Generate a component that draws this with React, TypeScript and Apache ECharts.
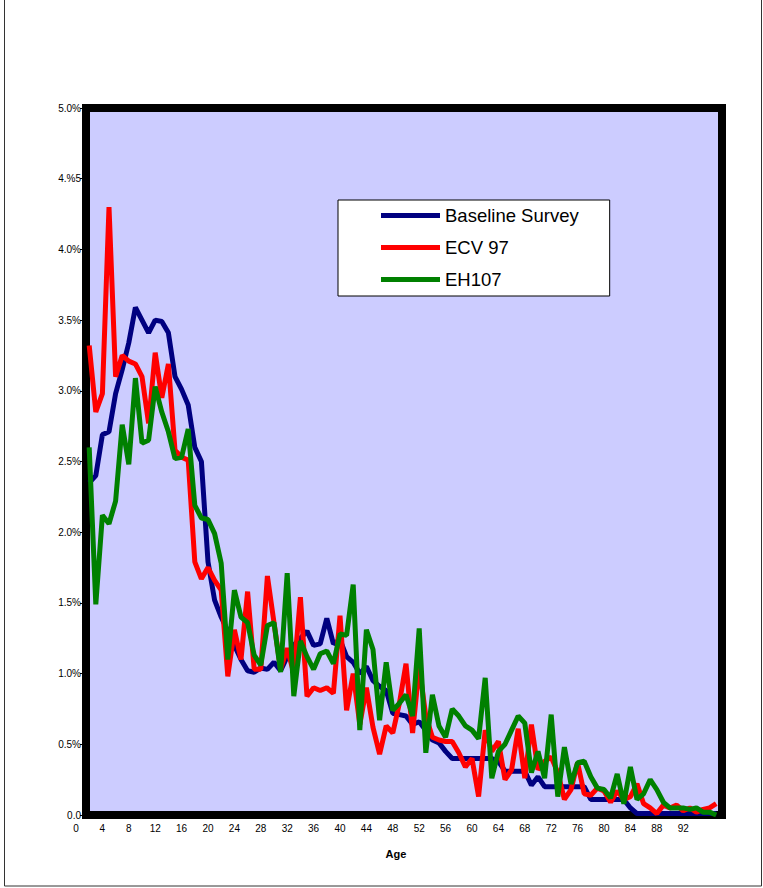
import React, { useEffect, useRef } from "react";
import * as echarts from "echarts";

const AGES = [
  2, 3, 4, 5, 6, 7, 8, 9, 10, 11, 12, 13, 14, 15, 16, 17, 18, 19, 20, 21,
  22, 23, 24, 25, 26, 27, 28, 29, 30, 31, 32, 33, 34, 35, 36, 37, 38, 39, 40, 41,
  42, 43, 44, 45, 46, 47, 48, 49, 50, 51, 52, 53, 54, 55, 56, 57, 58, 59, 60, 61,
  62, 63, 64, 65, 66, 67, 68, 69, 70, 71, 72, 73, 74, 75, 76, 77, 78, 79, 80, 81,
  82, 83, 84, 85, 86, 87, 88, 89, 90, 91, 92, 93, 94, 95, 96, 97,
];

const BASELINE = [
  2.35, 2.4, 2.69, 2.71, 2.98, 3.15, 3.34, 3.59, 3.5, 3.41, 3.5, 3.49, 3.41, 3.1, 3.01, 2.9, 2.6, 2.5, 1.79, 1.52,
  1.4, 1.3, 1.2, 1.1, 1.02, 1.01, 1.04, 1.03, 1.08, 1.02, 1.12, 1.2, 1.25, 1.3, 1.2, 1.21, 1.39, 1.21, 1.24, 1.12,
  1.08, 1.0, 1.05, 0.95, 0.91, 0.88, 0.72, 0.71, 0.7, 0.64, 0.66, 0.6, 0.53, 0.51, 0.45, 0.4, 0.4, 0.4, 0.4, 0.4,
  0.4, 0.4, 0.38, 0.31, 0.31, 0.31, 0.31, 0.21, 0.27, 0.2, 0.2, 0.2, 0.2, 0.2, 0.2, 0.2, 0.11, 0.11, 0.11, 0.11,
  0.11, 0.11, 0.05, 0.01, 0.01, 0.01, 0.01, 0.01, 0.01, 0.01, 0.01, 0.01, 0.01, 0.01, 0.01, 0.01,
];

const ECV97 = [
  3.32, 2.85, 2.98, 4.3, 3.1, 3.25, 3.21, 3.19, 3.1, 2.77, 3.27, 2.95, 3.19, 2.58, 2.53, 2.51, 1.79, 1.67, 1.75, 1.66,
  1.59, 0.98, 1.31, 1.1, 1.58, 1.03, 1.03, 1.69, 1.36, 1.03, 1.18, 1.0, 1.54, 0.84, 0.9, 0.88, 0.9, 0.86, 1.41, 0.74,
  1.0, 0.64, 0.9, 0.62, 0.43, 0.63, 0.58, 0.79, 1.07, 0.58, 1.05, 0.7, 0.55, 0.53, 0.52, 0.52, 0.44, 0.34, 0.4, 0.13,
  0.6, 0.45, 0.52, 0.25, 0.32, 0.61, 0.26, 0.64, 0.32, 0.38, 0.41, 0.3, 0.11, 0.18, 0.37, 0.15, 0.14, 0.19, 0.17, 0.09,
  0.17, 0.11, 0.13, 0.22, 0.08, 0.05, 0.01, 0.07, 0.05, 0.07, 0.03, 0.05, 0.02, 0.04, 0.05, 0.08,
];

const EH107 = [
  2.6, 1.49, 2.12, 2.06, 2.22, 2.76, 2.48, 3.09, 2.63, 2.65, 3.03, 2.85, 2.71, 2.52, 2.53, 2.73, 2.19, 2.1, 2.09, 1.99,
  1.78, 1.1, 1.59, 1.4, 1.36, 1.13, 1.06, 1.34, 1.36, 1.01, 1.71, 0.84, 1.23, 1.12, 1.03, 1.14, 1.16, 1.07, 1.28, 1.27,
  1.63, 0.6, 1.31, 1.17, 0.67, 1.08, 0.74, 0.79, 0.85, 0.7, 1.32, 0.44, 0.85, 0.63, 0.55, 0.75, 0.7, 0.63, 0.6, 0.54,
  0.97, 0.26, 0.45, 0.5, 0.6, 0.7, 0.65, 0.3, 0.45, 0.26, 0.71, 0.13, 0.48, 0.22, 0.37, 0.38, 0.27, 0.19, 0.18, 0.12,
  0.29, 0.08, 0.34, 0.11, 0.15, 0.25, 0.18, 0.09, 0.05, 0.05, 0.05, 0.04, 0.05, 0.02, 0.02, 0.0,
];

const SERIES_NAMES = ["Baseline Survey", "ECV 97", "EH107"];
const Y_TICK_LABELS = ["0.0", "0.5%", "1.0%", "1.5%", "2.0%", "2.5%", "3.0%", "3.5%", "4.0%", "4.%5", "5.0%"];
const X_TICK_LABELS = ["0", "4", "8", "12", "16", "20", "24", "28", "32", "36", "40", "44", "48", "52", "56", "60", "64", "68", "72", "76", "80", "84", "88", "92"];
const X_TITLE = "Age";

const FONT = "'Liberation Sans', Arial, Helvetica, sans-serif";
const COLORS = ["#000080", "#FF0000", "#008000"];

export default function App() {
  const ref = useRef<HTMLDivElement>(null);

  useEffect(() => {
    if (!ref.current) return;
    const chart = echarts.init(ref.current, undefined, { renderer: "svg" });
    const datasets = [BASELINE, ECV97, EH107];
    const PX = 6.6;
    const X0 = 76;
    const gridLeft = 86;
    const gridRight = 722;

    const option: any = {
      animation: false,
      backgroundColor: "#ffffff",
      textStyle: { fontFamily: FONT },
      grid: [
        {
          left: gridLeft,
          top: 108,
          width: gridRight - gridLeft,
          height: 707,
          show: true,
          backgroundColor: "#CCCCFF",
          borderColor: "#000000",
          borderWidth: 8,
        },
        {
          left: X0,
          top: 108,
          width: PX * 95,
          height: 707,
          show: false,
        },
      ],
      xAxis: [
        {
          type: "value",
          gridIndex: 0,
          min: (gridLeft - X0) / PX,
          max: (gridRight - X0) / PX,
          axisLine: { show: false },
          axisTick: { show: false },
          axisLabel: { show: false },
          splitLine: { show: false },
        },
        {
          type: "value",
          gridIndex: 1,
          min: 0,
          max: 95,
          interval: 4,
          axisLine: { show: false },
          axisTick: { show: false },
          splitLine: { show: false },
          axisLabel: {
            margin: 8,
            fontSize: 10,
            color: "#000",
            fontFamily: FONT,
            showMaxLabel: false,
            formatter: (v: number) => {
              const i = Math.round(v / 4);
              return Math.abs(v - i * 4) < 1e-6 && i < X_TICK_LABELS.length ? X_TICK_LABELS[i] : "";
            },
          },
        },
      ],
      yAxis: [
        {
          type: "value",
          gridIndex: 0,
          min: 0,
          max: 5,
          interval: 0.5,
          axisLine: { show: false },
          axisTick: { show: true, length: 6, lineStyle: { color: "#000", width: 1 } },
          splitLine: { show: false },
          axisLabel: {
            margin: 5,
            fontSize: 10,
            color: "#000",
            fontFamily: FONT,
            formatter: (v: number) => Y_TICK_LABELS[Math.round(v / 0.5)] ?? "",
          },
        },
        { type: "value", gridIndex: 1, show: false, min: 0, max: 5 },
      ],
      legend: {
        show: true,
        orient: "vertical",
        left: 338,
        top: 200,
        icon: "rect",
        itemWidth: 59,
        itemHeight: 5,
        itemGap: 13,
        padding: [6, 31, 7, 43],
        backgroundColor: "#ffffff",
        borderColor: "#000000",
        borderWidth: 1,
        borderRadius: 0,
        textStyle: { fontSize: 18.5, color: "#000", fontFamily: FONT },
        data: SERIES_NAMES,
      },
      graphic: [
        {
          type: "rect",
          shape: { x: 4.5, y: -2, width: 757, height: 888 },
          style: { fill: "none", stroke: "#333", lineWidth: 1 },
          silent: true,
          z: -10,
        },
        {
          type: "text",
          x: 396,
          y: 854,
          style: {
            text: X_TITLE,
            fontSize: 11,
            fontWeight: "bold",
            fontFamily: FONT,
            fill: "#000",
            align: "center",
            verticalAlign: "middle",
          },
        },
      ],
      series: datasets.map((d, si) => ({
        name: SERIES_NAMES[si],
        type: "line",
        xAxisIndex: 0,
        yAxisIndex: 0,
        showSymbol: false,
        symbol: "none",
        color: COLORS[si],
        lineStyle: { color: COLORS[si], width: 5 },
        data: AGES.map((a, i) => [a, d[i]]),
        z: 2 + si,
      })),
    };

    chart.setOption(option);
    return () => chart.dispose();
  }, []);

  return (
    <div
      ref={ref}
      style={{ position: "absolute", left: 0, top: 0, width: 763, height: 888 }}
    />
  );
}
